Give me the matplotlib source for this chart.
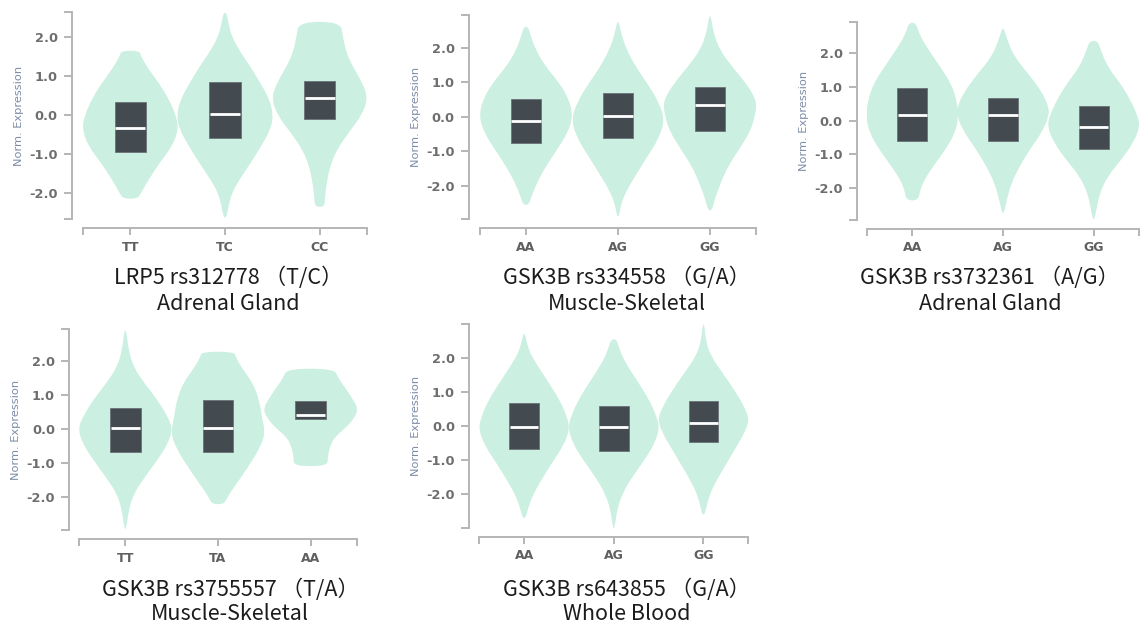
import numpy as np
import matplotlib
matplotlib.use("Agg")
import matplotlib.pyplot as plt
from matplotlib.path import Path
from matplotlib.patches import PathPatch, Rectangle

# ----------------------------------------------------------------------
# Data (norm. expression per genotype)
# ----------------------------------------------------------------------
SNP_TITLES = ["LRP5 rs312778 （T/C）", "GSK3B rs334558 （G/A）",
              "GSK3B rs3732361 （A/G）", "GSK3B rs3755557 （T/A）",
              "GSK3B rs643855 （G/A）"]
TISSUES = ["Adrenal Gland", "Muscle-Skeletal", "Adrenal Gland",
           "Muscle-Skeletal", "Whole Blood"]
GENOTYPES = [["TT", "TC", "CC"], ["AA", "AG", "GG"], ["AA", "AG", "GG"],
             ["TT", "TA", "AA"], ["AA", "AG", "GG"]]
Y_RANGES = [(-2.66, 2.63), (-2.97, 2.95), (-2.94, 2.93),
            (-2.98, 2.93), (-3.0, 2.99)]
Y_TICKS = [-2.0, -1.0, 0.0, 1.0, 2.0]

# box: lower quartile, median, upper quartile
BOX_Q1 = [[-0.94, -0.60, -0.10], [-0.75, -0.61, -0.43], [-0.59, -0.59, -0.85],
          [-0.69, -0.69, 0.30], [-0.67, -0.72, -0.46]]
BOX_MED = [[-0.33, 0.02, 0.42], [-0.12, 0.02, 0.34], [0.17, 0.17, -0.18],
           [0.03, 0.02, 0.42], [-0.04, -0.02, 0.10]]
BOX_Q3 = [[0.34, 0.83, 0.87], [0.50, 0.68, 0.87], [0.96, 0.68, 0.44],
          [0.62, 0.86, 0.81], [0.68, 0.59, 0.74]]

# violin outlines: expression levels (bottom -> top) and relative half widths
LRP5_312778_Y = [
    [-2.14, -2.0, -1.65, -1.2, -0.8, -0.35, 0.0, 0.4, 0.8, 1.2, 1.5, 1.64],
    [-2.62, -2.35, -2.0, -1.65, -1.25, -0.8, -0.35, 0.0, 0.4, 0.8, 1.25, 1.6, 2.0, 2.35, 2.61],
    [-2.35, -2.1, -1.7, -1.3, -0.9, -0.45, 0.0, 0.45, 0.85, 1.25, 1.6, 2.0, 2.38],
]
LRP5_312778_W = [
    [0.15, 0.22, 0.38, 0.62, 0.87, 1.0, 0.94, 0.8, 0.6, 0.36, 0.22, 0.19],
    [0.03, 0.07, 0.14, 0.30, 0.52, 0.75, 0.95, 1.0, 0.92, 0.74, 0.52, 0.32, 0.14, 0.07, 0.03],
    [0.10, 0.11, 0.15, 0.22, 0.35, 0.60, 0.88, 1.0, 0.87, 0.68, 0.55, 0.48, 0.43],
]
GSK3B_334558_Y = [
    [-2.56, -2.3, -1.9, -1.45, -1.0, -0.5, 0.0, 0.5, 1.0, 1.45, 1.95, 2.4, 2.61],
    [-2.9, -2.5, -2.1, -1.65, -1.15, -0.65, -0.1, 0.45, 0.95, 1.45, 1.95, 2.4, 2.75],
    [-2.72, -2.4, -1.95, -1.45, -0.95, -0.45, 0.0, 0.45, 0.95, 1.45, 1.95, 2.45, 2.92],
]
GSK3B_334558_W = [
    [0.06, 0.12, 0.24, 0.42, 0.64, 0.88, 1.0, 0.92, 0.70, 0.42, 0.20, 0.09, 0.04],
    [0.02, 0.07, 0.20, 0.40, 0.63, 0.86, 1.0, 0.86, 0.63, 0.38, 0.18, 0.07, 0.02],
    [0.04, 0.10, 0.22, 0.38, 0.62, 0.85, 0.96, 1.0, 0.78, 0.47, 0.20, 0.07, 0.02],
]
GSK3B_3732361_Y = [
    [-2.36, -2.05, -1.75, -1.35, -0.85, -0.35, 0.12, 0.6, 1.1, 1.6, 2.1, 2.55, 2.9],
    [-2.74, -2.35, -1.85, -1.35, -0.85, -0.35, 0.15, 0.45, 0.9, 1.4, 1.9, 2.4, 2.73],
    [-2.92, -2.55, -2.15, -1.65, -1.15, -0.65, -0.18, 0.15, 0.6, 1.1, 1.6, 2.1, 2.36],
]
GSK3B_3732361_W = [
    [0.13, 0.17, 0.26, 0.45, 0.72, 0.93, 1.0, 0.96, 0.84, 0.60, 0.35, 0.15, 0.08],
    [0.02, 0.08, 0.18, 0.36, 0.58, 0.84, 1.0, 0.98, 0.82, 0.54, 0.24, 0.09, 0.02],
    [0.02, 0.07, 0.13, 0.30, 0.60, 0.86, 1.0, 0.95, 0.80, 0.58, 0.30, 0.15, 0.09],
]
GSK3B_3755557_Y = [
    [-2.95, -2.4, -1.9, -1.45, -0.95, -0.45, 0.0, 0.35, 0.85, 1.35, 1.8, 2.3, 2.9],
    [-2.22, -2.0, -1.6, -1.1, -0.6, -0.15, 0.35, 0.85, 1.35, 1.8, 2.1, 2.27],
    [-1.1, -0.85, -0.55, -0.25, 0.05, 0.35, 0.6, 0.85, 1.15, 1.5, 1.77],
]
GSK3B_3755557_W = [
    [0.02, 0.07, 0.18, 0.40, 0.66, 0.90, 1.0, 0.90, 0.68, 0.40, 0.18, 0.07, 0.02],
    [0.13, 0.20, 0.40, 0.65, 0.87, 1.0, 0.93, 0.87, 0.74, 0.50, 0.38, 0.34],
    [0.35, 0.36, 0.40, 0.50, 0.76, 0.94, 1.0, 0.90, 0.76, 0.58, 0.50],
]
GSK3B_643855_Y = [
    [-2.7, -2.45, -2.05, -1.6, -1.1, -0.6, -0.1, 0.3, 0.75, 1.25, 1.75, 2.2, 2.71],
    [-3.0, -2.45, -1.95, -1.5, -1.0, -0.5, -0.05, 0.3, 0.75, 1.25, 1.75, 2.2, 2.54],
    [-2.6, -2.15, -1.7, -1.2, -0.7, -0.2, 0.18, 0.55, 1.05, 1.55, 2.05, 2.5, 2.98],
]
GSK3B_643855_W = [
    [0.03, 0.08, 0.18, 0.37, 0.60, 0.85, 1.0, 0.93, 0.78, 0.55, 0.30, 0.10, 0.02],
    [0.02, 0.07, 0.20, 0.40, 0.67, 0.90, 1.0, 0.93, 0.78, 0.55, 0.30, 0.13, 0.07],
    [0.03, 0.10, 0.24, 0.46, 0.68, 0.90, 1.0, 0.90, 0.68, 0.42, 0.16, 0.05, 0.02],
]
VIOLIN_Y = [LRP5_312778_Y, GSK3B_334558_Y, GSK3B_3732361_Y, GSK3B_3755557_Y, GSK3B_643855_Y]
VIOLIN_W = [LRP5_312778_W, GSK3B_334558_W, GSK3B_3732361_W, GSK3B_3755557_W, GSK3B_643855_W]

# ----------------------------------------------------------------------
# Layout in pixels: y-axis x, y-axis top, y-axis bottom, x-axis y, x-axis left, x-axis right
# ----------------------------------------------------------------------
W_PX, H_PX = 1144, 625
LAYOUT = [
    (72, 12, 219, 228, 83, 367),
    (469, 15, 219, 228, 480, 756),
    (857, 21.7, 220, 228.7, 867, 1139),
    (69.3, 329.3, 530, 539, 79, 357),
    (469.3, 324, 528.3, 536.7, 479.3, 748.3),
]
TITLE_POS = [(228, 278, 304), (627, 278, 304), (990, 278, 304),
             (230, 590, 614), (627, 590, 614)]

VIOLIN_COLOR = "#cbefe0"
BOX_COLOR = "#434b51"
AXIS_COLOR = "#b5b5b5"
PX = 72 / 100  # points per pixel at dpi 100


def violin_path(cx, ys, ws, half):
    # closed outline, smoothed with quadratic curves through the knot midpoints
    right = [(cx + w * half, y) for y, w in zip(ys, ws)]
    left = [(cx - w * half, y) for y, w in zip(ys[::-1], ws[::-1])]
    pts = np.array(right + left)
    mids = (pts + np.roll(pts, -1, axis=0)) / 2
    verts, codes = [mids[-1]], [Path.MOVETO]
    for i in range(len(pts)):
        verts += [pts[i], mids[i]]
        codes += [Path.CURVE3, Path.CURVE3]
    verts.append(mids[-1])
    codes.append(Path.CLOSEPOLY)
    return Path(verts, codes)


def draw_panel(fig, k):
    yx, ytop, ybot, xy, xl, xr = LAYOUT[k]
    ax = fig.add_axes([xl / W_PX, 1 - ybot / H_PX, (xr - xl) / W_PX, (ybot - ytop) / H_PX])
    ax.set_xlim(-0.5, 2.5)
    ax.set_ylim(*Y_RANGES[k])

    for i in range(3):
        ax.add_patch(PathPatch(violin_path(i, VIOLIN_Y[k][i], VIOLIN_W[k][i], 0.51),
                               facecolor=VIOLIN_COLOR, edgecolor="none", zorder=1))
        q1, med, q3 = BOX_Q1[k][i], BOX_MED[k][i], BOX_Q3[k][i]
        ax.add_patch(Rectangle((i - 0.165, q1), 0.33, q3 - q1, facecolor=BOX_COLOR,
                               edgecolor="#6b7177", linewidth=0.6, zorder=2))
        ax.plot([i - 0.16, i + 0.16], [med, med], color="white", linewidth=2.0,
                solid_capstyle="butt", zorder=3)

    for side in ("top", "right"):
        ax.spines[side].set_visible(False)
    ax.spines["left"].set_position(("outward", (xl - yx) * PX))
    ax.spines["bottom"].set_position(("outward", (xy - ybot) * PX))
    for side in ("left", "bottom"):
        ax.spines[side].set_color(AXIS_COLOR)
        ax.spines[side].set_linewidth(1.4)

    ax.set_yticks(Y_TICKS)
    ax.set_yticklabels([f"{t:.1f}" for t in Y_TICKS])
    ax.set_yticks(list(Y_RANGES[k]), minor=True)
    ax.set_xticks([0, 1, 2])
    ax.set_xticklabels(GENOTYPES[k])
    ax.set_xticks([-0.5, 2.5], minor=True)
    ax.tick_params(axis="y", which="both", direction="out", length=8 * PX, width=1.4,
                   color=AXIS_COLOR)
    ax.tick_params(axis="x", which="both", direction="out", length=7 * PX, width=1.4,
                   color=AXIS_COLOR)
    ax.tick_params(axis="y", labelsize=9.3, labelcolor="#6e6e6e", pad=4.5)
    ax.tick_params(axis="x", labelsize=9, labelcolor="#5f5f5f", pad=4)
    for lab in ax.get_xticklabels() + ax.get_yticklabels():
        lab.set_fontweight("bold")
    ax.set_facecolor("none")

    ax.set_ylabel("Norm. Expression", fontsize=8.2, color="#7d8ca7")
    ax.yaxis.set_label_coords((yx - 48 - xl) / (xr - xl), 0.5)

    cx, y1, y2 = TITLE_POS[k]
    fig.text(cx / W_PX, 1 - y1 / H_PX, SNP_TITLES[k], ha="center", va="center",
             fontsize=15.5, color="#1c1c1c", family=["Noto Sans CJK SC", "DejaVu Sans"])
    fig.text(cx / W_PX, 1 - y2 / H_PX, TISSUES[k], ha="center", va="center",
             fontsize=15.5, color="#1c1c1c", family=["Noto Sans CJK SC", "DejaVu Sans"])


fig = plt.figure(figsize=(W_PX / 100, H_PX / 100), dpi=100)
fig.patch.set_facecolor("white")
for k in range(5):
    draw_panel(fig, k)
fig.savefig("out.png", dpi=100)
